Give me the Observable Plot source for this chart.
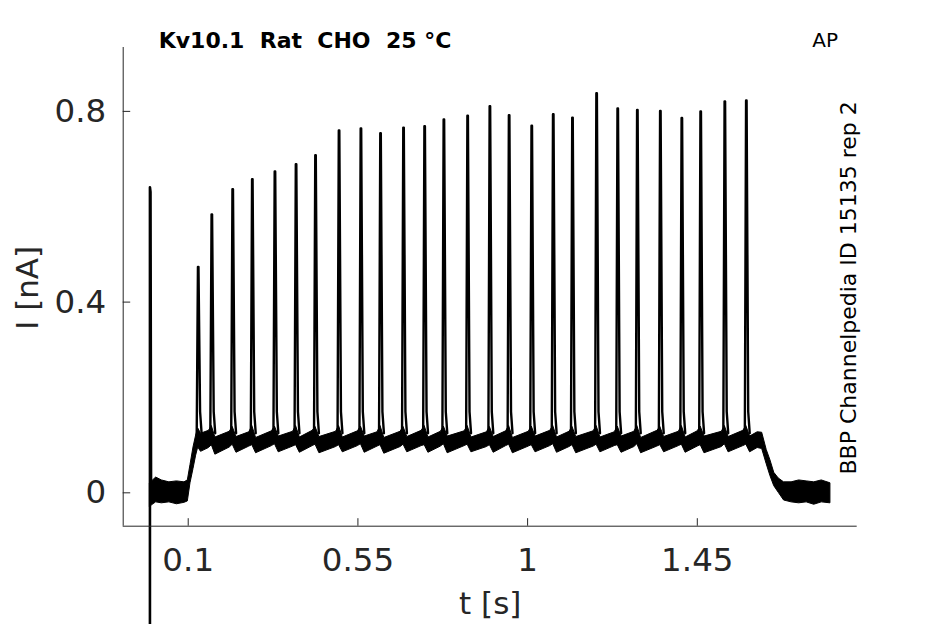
<!DOCTYPE html>
<html><head><meta charset="utf-8">
<script src="https://cdn.jsdelivr.net/npm/d3@7"></script>
<script src="https://cdn.jsdelivr.net/npm/@observablehq/plot@0.6"></script>
<style>body{margin:0;background:#fff} svg{display:block} svg text{white-space:pre}</style>
</head><body><div id="chart"></div>
<script>
// ---- data ----
const xTicks = [0.1, 0.55, 1, 1.45];
const yTicks = [0, 0.4, 0.8];
const xDomain = [-0.0724, 1.874];
const yDomain = [-0.070, 0.934];

// stimulus-onset transient at t = 0
const onsetT = -0.0015;
const onsetPeak = 0.641;
const onsetMin = -0.30;

// action-potential evoked spikes
const spikeT = [0.1265, 0.1626, 0.218, 0.270, 0.330, 0.386, 0.4376, 0.500, 0.558, 0.610, 0.671, 0.727, 0.778, 0.841,
  0.900, 0.951, 1.011, 1.068, 1.119, 1.183, 1.239, 1.291, 1.352, 1.409, 1.459, 1.523, 1.580];
const spikePeak = [0.474, 0.584, 0.637, 0.658, 0.674, 0.689, 0.708, 0.760, 0.764, 0.754, 0.766, 0.769, 0.783, 0.791,
  0.811, 0.792, 0.770, 0.794, 0.787, 0.838, 0.806, 0.803, 0.801, 0.786, 0.800, 0.821, 0.823];

// noisy baseline envelope (time, lower edge, upper edge)
const bandT = [-0.001, 0.004, 0.015, 0.03, 0.05, 0.07, 0.09, 0.099, 0.106, 0.114, 0.121, 0.1265,
  0.134, 0.155, 0.1626,
  0.172, 0.210, 0.218,
  0.228, 0.262, 0.270,
  0.280, 0.322, 0.330,
  0.340, 0.378, 0.386,
  0.396, 0.430, 0.4376,
  0.448, 0.492, 0.500,
  0.510, 0.550, 0.558,
  0.568, 0.602, 0.610,
  0.620, 0.663, 0.671,
  0.681, 0.719, 0.727,
  0.737, 0.770, 0.778,
  0.788, 0.833, 0.841,
  0.851, 0.892, 0.900,
  0.910, 0.943, 0.951,
  0.961, 1.003, 1.011,
  1.021, 1.060, 1.068,
  1.078, 1.111, 1.119,
  1.129, 1.175, 1.183,
  1.193, 1.231, 1.239,
  1.249, 1.283, 1.291,
  1.301, 1.344, 1.352,
  1.362, 1.401, 1.409,
  1.419, 1.451, 1.459,
  1.469, 1.515, 1.523,
  1.533, 1.572, 1.580,
  1.590, 1.610, 1.622, 1.634, 1.644, 1.654, 1.666, 1.680, 1.700, 1.720, 1.740, 1.760, 1.780, 1.803];
const bandLo = [-0.030, -0.026, -0.020, -0.022, -0.020, -0.024, -0.021, -0.018, 0.020, 0.050, 0.078, 0.095,
  0.086, 0.094, 0.100,
  0.080, 0.095, 0.101,
  0.084, 0.097, 0.100,
  0.083, 0.098, 0.102,
  0.085, 0.097, 0.100,
  0.084, 0.098, 0.101,
  0.083, 0.096, 0.100,
  0.085, 0.098, 0.102,
  0.084, 0.097, 0.100,
  0.082, 0.096, 0.101,
  0.085, 0.098, 0.100,
  0.084, 0.097, 0.102,
  0.083, 0.098, 0.101,
  0.085, 0.096, 0.100,
  0.084, 0.098, 0.101,
  0.083, 0.097, 0.100,
  0.085, 0.098, 0.102,
  0.084, 0.096, 0.100,
  0.083, 0.097, 0.101,
  0.085, 0.098, 0.100,
  0.084, 0.096, 0.102,
  0.083, 0.097, 0.100,
  0.085, 0.098, 0.101,
  0.084, 0.097, 0.100,
  0.083, 0.096, 0.102,
  0.085, 0.098, 0.101,
  0.085, 0.094, 0.092, 0.060, 0.035, 0.014, 0.000, -0.016, -0.020, -0.022, -0.020, -0.025, -0.020, -0.022];
const bandHi = [0.020, 0.024, 0.032, 0.026, 0.022, 0.024, 0.022, 0.026, 0.058, 0.095, 0.120, 0.135,
  0.124, 0.130, 0.140,
  0.116, 0.128, 0.138,
  0.117, 0.127, 0.140,
  0.115, 0.129, 0.139,
  0.118, 0.128, 0.140,
  0.116, 0.130, 0.138,
  0.117, 0.128, 0.140,
  0.116, 0.129, 0.139,
  0.118, 0.127, 0.140,
  0.115, 0.128, 0.138,
  0.117, 0.130, 0.140,
  0.116, 0.128, 0.139,
  0.118, 0.129, 0.140,
  0.116, 0.127, 0.138,
  0.117, 0.129, 0.140,
  0.115, 0.128, 0.139,
  0.118, 0.130, 0.140,
  0.116, 0.128, 0.138,
  0.117, 0.129, 0.140,
  0.116, 0.127, 0.139,
  0.118, 0.128, 0.140,
  0.115, 0.130, 0.138,
  0.117, 0.128, 0.140,
  0.116, 0.129, 0.139,
  0.118, 0.128, 0.140,
  0.117, 0.130, 0.140,
  0.118, 0.127, 0.126, 0.090, 0.068, 0.042, 0.030, 0.022, 0.022, 0.026, 0.024, 0.022, 0.026, 0.020];

const titleText = "Kv10.1  Rat  CHO  25 °C";
const protocolText = "AP";
const sourceText = "BBP Channelpedia ID 15135 rep 2";
const xLabel = "t [s]";
const yLabel = "I [nA]";

// ---- tables built from the arrays ----
const band = bandT.map((t, i) => ({t, lo: bandLo[i], hi: bandHi[i]}));
const spikePts = [];
spikeT.forEach((s, i) => {
  const p = spikePeak[i];
  [[s - 0.004, 0.12], [s - 0.0007, p], [s + 0.0007, p], [s + 0.005, 0.17], [s + 0.009, 0.125]]
    .forEach(([t, v]) => spikePts.push({id: i, t, v}));
});
const onsetPts = [
  {t: onsetT, v: onsetMin}, {t: onsetT, v: onsetPeak},
  {t: onsetT + 0.0015, v: onsetPeak - 0.01}, {t: onsetT + 0.003, v: 0}
];

const W = 945, H = 624, mL = 122.7, mR = 88.3, mT = 47, mB = 98.3;
const axisColor = "#262626";
const tickFont = 32.5;

const chart = Plot.plot({
  width: W, height: H,
  marginLeft: mL, marginRight: mR, marginTop: mT, marginBottom: mB,
  style: {fontFamily: "DejaVu Sans", fontSize: tickFont + "px", color: axisColor, background: "#fff"},
  x: {domain: xDomain},
  y: {domain: yDomain},
  marks: [
    Plot.areaY(band, {x: "t", y1: "lo", y2: "hi", fill: "black", stroke: "black", strokeWidth: 1}),
    Plot.line(spikePts, {x: "t", y: "v", z: "id", stroke: "black", strokeWidth: 2.4}),
    Plot.line(onsetPts, {x: "t", y: "v", stroke: "black", strokeWidth: 2.6}),
    // axis lines (left and bottom only)
    Plot.ruleX([xDomain[0]], {stroke: axisColor, strokeWidth: 1}),
    Plot.ruleY([yDomain[0]], {stroke: axisColor, strokeWidth: 1}),
    // inward ticks
    Plot.tickX(xTicks, {x: d => d, stroke: axisColor, insetTop: H - mT - mB - 7.5}),
    Plot.tickY(yTicks, {y: d => d, stroke: axisColor, insetRight: W - mL - mR - 7.5}),
    Plot.axisX(xTicks, {tickSize: 0, tickPadding: 22, tickFormat: d => String(d), fontSize: tickFont, label: null, fill: axisColor}),
    Plot.axisY(yTicks, {tickSize: 0, tickPadding: 17, tickFormat: d => String(d), fontSize: tickFont, label: null, fill: axisColor}),
    Plot.text([xLabel], {frameAnchor: "bottom", dy: 88, lineAnchor: "bottom", textAnchor: "middle", fontSize: 31, fill: axisColor}),
    Plot.text([yLabel], {frameAnchor: "left", rotate: -90, dx: -85, dy: 1, lineAnchor: "bottom", textAnchor: "middle", fontSize: 31, fill: axisColor}),
    Plot.text([titleText], {frameAnchor: "top-left", dx: 35.5, dy: 0, lineAnchor: "bottom", textAnchor: "start", fontSize: 22, fontWeight: "bold", fill: "black"}),
    Plot.text([protocolText], {frameAnchor: "top-right", dx: -45, dy: -1, lineAnchor: "bottom", textAnchor: "start", fontSize: 20, fill: "black"}),
    Plot.text([sourceText], {frameAnchor: "right", rotate: -90, dx: -1, dy: 1, lineAnchor: "bottom", textAnchor: "middle", fontSize: 22, fill: "black"})
  ]
});
document.getElementById("chart").appendChild(chart);
</script>
</body></html>
